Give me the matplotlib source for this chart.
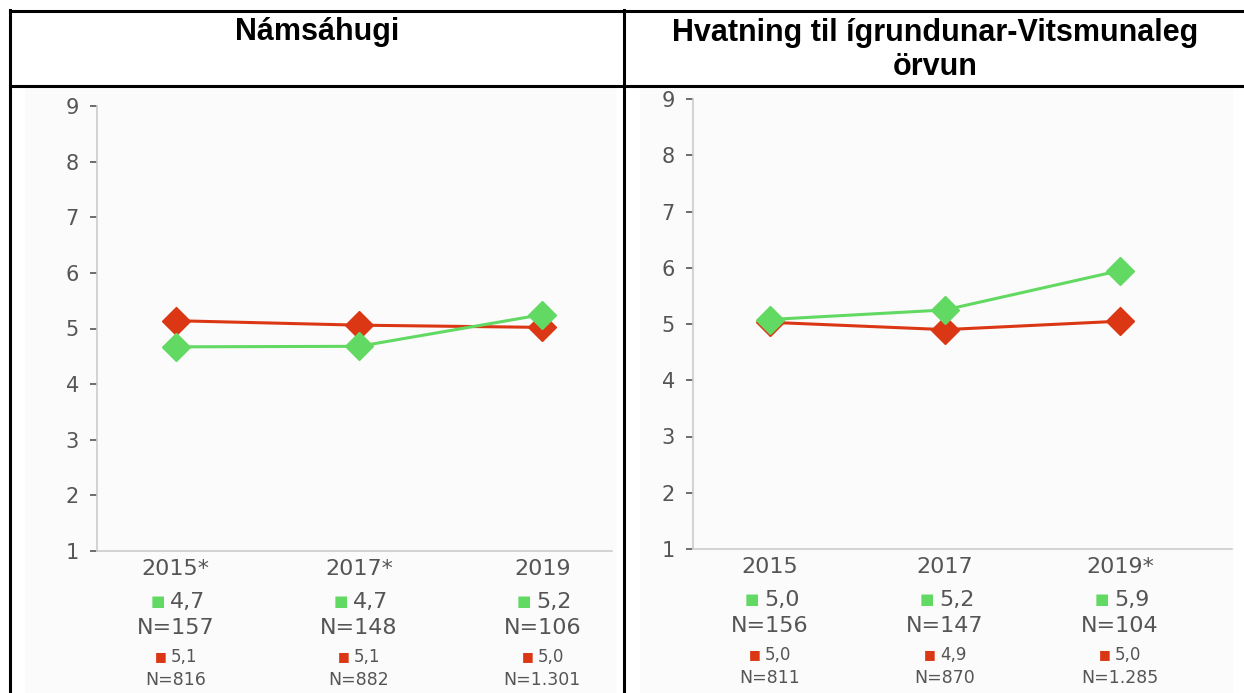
import matplotlib.pyplot as plt
from matplotlib.lines import Line2D
from matplotlib.patches import Rectangle

W, H = 1244, 693

# gögn
titles = ['Námsáhugi', 'Hvatning til ígrundunar-Vitsmunaleg\nörvun']
years_left = ['2015*', '2017*', '2019']
years_right = ['2015', '2017', '2019*']

green_left = [4.67, 4.68, 5.25]
red_left = [5.14, 5.06, 5.02]
green_right = [5.08, 5.25, 5.95]
red_right = [5.03, 4.90, 5.05]

green_lbl_left = ['4,7', '4,7', '5,2']
n_green_left = ['N=157', 'N=148', 'N=106']
red_lbl_left = ['5,1', '5,1', '5,0']
n_red_left = ['N=816', 'N=882', 'N=1.301']

green_lbl_right = ['5,0', '5,2', '5,9']
n_green_right = ['N=156', 'N=147', 'N=104']
red_lbl_right = ['5,0', '4,9', '5,0']
n_red_right = ['N=811', 'N=870', 'N=1.285']

GREEN = '#62d962'
RED = '#dc3714'
GREY = '#555555'

fig = plt.figure(figsize=(W / 100, H / 100), dpi=100)


def px_rect(x0, y0, x1, y1):
    # pixel -> figure fraction (y frá toppi)
    return [x0 / W, 1 - y1 / H, (x1 - x0) / W, (y1 - y0) / H]


# ljósgrár bakgrunnur myndanna
fig.add_artist(Rectangle((25 / W, 0), 590 / W, 1 - 87 / H, transform=fig.transFigure,
                         color='#fbfbfb', zorder=0))
fig.add_artist(Rectangle((640 / W, 0), 592 / W, 1 - 87 / H, transform=fig.transFigure,
                         color='#fbfbfb', zorder=0))

# töflulínur
def hline(y, x0, x1):
    fig.add_artist(Line2D([x0 / W, x1 / W], [1 - y / H, 1 - y / H], color='black', lw=2.2))


def vline(x, y0, y1):
    fig.add_artist(Line2D([x / W, x / W], [1 - y0 / H, 1 - y1 / H], color='black', lw=2.2))


hline(11, 10, W)
hline(86, 10, W)
vline(10, 10, H)
vline(624, 10, H)

fig.text(317 / W, 1 - 32 / H, titles[0], ha='center', va='center',
         fontsize=22, fontweight='bold', family='Liberation Sans')
fig.text(935 / W, 1 - 50 / H, titles[1], ha='center', va='center',
         fontsize=22, fontweight='bold', family='Liberation Sans', linespacing=1.15)


def draw_panel(rect, xlim, years, green, red, g_lbl, g_n, r_lbl, r_n):
    ax = fig.add_axes(rect)
    ax.set_facecolor('none')
    x = range(len(years))
    ax.plot(x, red, color=RED, lw=2.2, marker='D', ms=14, zorder=3)
    ax.plot(x, green, color=GREEN, lw=2.2, marker='D', ms=14, zorder=4)
    ax.set_xlim(*xlim)
    ax.set_ylim(1, 9)
    ax.set_yticks(range(1, 10))
    ax.set_xticks([])
    for s in ['top', 'right']:
        ax.spines[s].set_visible(False)
    ax.spines['left'].set_color('#cccccc')
    ax.spines['bottom'].set_color('#cccccc')
    ax.spines['left'].set_linewidth(1.2)
    ax.spines['bottom'].set_linewidth(1.2)
    ax.tick_params(axis='y', length=5, width=1.2, color=GREY, labelcolor=GREY,
                   labelsize=15, pad=8)

    def below(i, txt, dy, size, dx=0, color=GREY, ha='center'):
        ax.annotate(txt, xy=(i, 0), xycoords=('data', 'axes fraction'),
                    xytext=(dx, -dy), textcoords='offset pixels',
                    ha=ha, va='center', fontsize=size, color=color)

    for i in x:
        below(i, years[i], 18, 16)
        below(i, '■', 51, 11, dx=-11, color=GREEN, ha='right')
        below(i, g_lbl[i], 51, 16, dx=-6, ha='left')
        below(i, g_n[i], 77, 16)
        below(i, '■', 106, 9, dx=-9, color=RED, ha='right')
        below(i, r_lbl[i], 106, 12, dx=-5, ha='left')
        below(i, r_n[i], 129, 12.5)
    return ax


draw_panel(px_rect(97, 106, 612, 551), (-0.43, 2.38), years_left,
           green_left, red_left, green_lbl_left, n_green_left, red_lbl_left, n_red_left)
draw_panel(px_rect(693, 99, 1232, 549), (-0.44, 2.64), years_right,
           green_right, red_right, green_lbl_right, n_green_right, red_lbl_right, n_red_right)

fig.savefig('out.png', dpi=100)
